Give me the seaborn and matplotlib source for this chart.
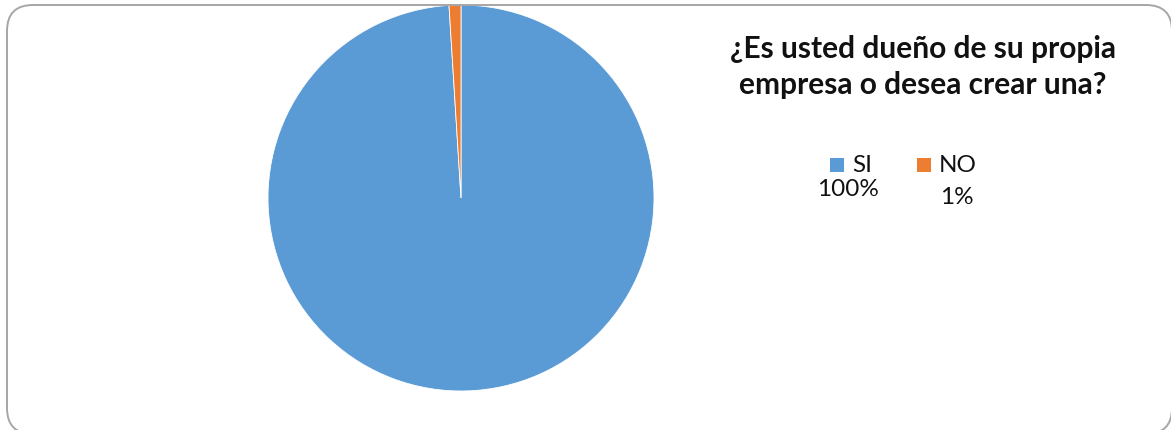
import matplotlib
matplotlib.use("Agg")
import matplotlib.pyplot as plt
from matplotlib.patches import FancyBboxPatch, Rectangle
from matplotlib.transforms import IdentityTransform
import seaborn as sns

# Survey answers
categories = ["SI", "NO"]
values = [100, 1]
colors = ["#5B9BD5", "#ED7D31"]
title = "¿Es usted dueño de su propia\nempresa o desea crear una?"

sns.set_theme(style="white")
plt.rcParams["font.family"] = ["Lato", "DejaVu Sans"]

W, H, DPI = 1171, 430, 100
fig = plt.figure(figsize=(W / DPI, H / DPI), dpi=DPI)
fig.patch.set_facecolor("white")

# Rounded chart-area border (pixel coordinates)
frame = FancyBboxPatch((7, -4), 1165, 429, boxstyle="round,pad=0,rounding_size=26",
                       transform=IdentityTransform(), facecolor="none",
                       edgecolor="#A6A6A6", linewidth=1.4)
fig.patches.append(frame)

# Pie area
r = 193
cx, cy = 461, H - 198
ax = fig.add_axes([(cx - r) / W, (cy - r) / H, 2 * r / W, 2 * r / H])
ax.pie(values, colors=colors, startangle=90, counterclock=False, radius=1,
       wedgeprops=dict(edgecolor="white", linewidth=0.6))
ax.set_xlim(-1, 1)
ax.set_ylim(-1, 1)
ax.set_aspect("equal")
ax.axis("off")

# Title
fig.text(923 / W, 1 - 67 / H, title, ha="center", va="center", fontsize=21.5,
         fontweight="bold", color="#111111", linespacing=1.38)

# Legend with percentages below each entry
legend_x = [837, 924]
for i, (cat, v, c) in enumerate(zip(categories, values, colors)):
    x0 = legend_x[i]
    sq = Rectangle((x0 - 7, H - 165 - 7), 14, 14, transform=IdentityTransform(),
                   facecolor=c, edgecolor="none")
    fig.patches.append(sq)
    fig.text((x0 + 15) / W, 1 - 165 / H, cat, ha="left", va="center",
             fontsize=17.5, color="#111111")
    pct = f"{v}%"
    px, py = (848, 190) if i == 0 else (957, 197)
    fig.text(px / W, 1 - py / H, pct, ha="center", va="center",
             fontsize=17.5, color="#111111")

fig.savefig("out.png", dpi=DPI, facecolor="white")
